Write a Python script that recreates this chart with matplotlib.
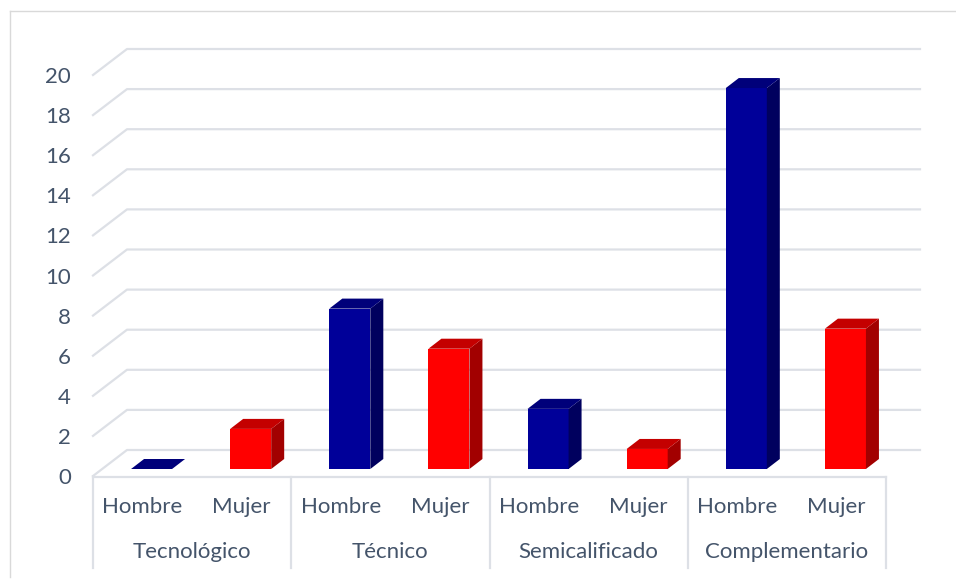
import numpy as np
import matplotlib.pyplot as plt
from matplotlib.patches import Polygon
from matplotlib.lines import Line2D

# data
groups = ['Tecnológico', 'Técnico', 'Semicalificado', 'Complementario']
sexes = ['Hombre', 'Mujer']
hombre = [0, 8, 3, 19]
mujer = [2, 6, 1, 7]
yticks = np.arange(0, 21, 2)

W, H = 956, 579
fig = plt.figure(figsize=(W / 100, H / 100), dpi=100)
plt.rcParams['font.family'] = ['Lato', 'DejaVu Sans']
txt = '#44546A'
grid = '#DDE0E6'
fs = 16

# front plane of the chart in pixels
x0, x1 = 93, 886
yb, yt = 476, 75
ax = fig.add_axes([x0 / W, 1 - yb / H, (x1 - x0) / W, (yb - yt) / H])
ax.set_xlim(0, 8)
ax.set_ylim(0, 20)
for s in ax.spines.values():
    s.set_visible(False)
ax.set_xticks([])
ax.set_yticks(yticks)
ax.tick_params(axis='y', length=0, pad=16, labelsize=fs, labelcolor=txt)

pxx = (x1 - x0) / 8.0
pxy = (yb - yt) / 20.0
# depth offsets (data units)
bdx, bdy = 34 / pxx, 26 / pxy      # back wall
fdx, fdy = 9 / pxx, 7 / pxy        # bar front
ddx, ddy = 13 / pxx, 10 / pxy      # bar depth
bw = 41 / pxx


def py2v(py):
    return (yb - py) / pxy


# gridlines on back wall + left diagonal
for v in yticks:
    ax.add_line(Line2D([0, bdx, 8 + bdx], [v, v + bdy, v + bdy], color=grid,
                       lw=1.6, clip_on=False, zorder=1))
# floor front edge
ax.add_line(Line2D([0, 8], [py2v(477)] * 2, color=grid, lw=1.6, clip_on=False, zorder=1))
# category box verticals
for xv in [0, 2, 4, 6, 8]:
    ax.add_line(Line2D([xv, xv], [py2v(477), py2v(568)], color=grid, lw=1.6,
                       clip_on=False, zorder=1))

colors = {
    'Hombre': ('#000099', '#00005E', '#00007A'),
    'Mujer': ('#FF0000', '#A20000', '#C40000'),
}


def bar3d(xc, h, cols):
    front, side, top = cols
    xl = xc - bw / 2 + fdx
    xr = xc + bw / 2 + fdx
    y0 = fdy
    y1 = fdy + h
    if h > 0:
        ax.bar(xc + fdx, h, bw, bottom=y0, color=front, zorder=3, clip_on=False)
        ax.add_patch(Polygon([[xr, y0], [xr + ddx, y0 + ddy], [xr + ddx, y1 + ddy], [xr, y1]],
                             closed=True, fc=side, ec='none', zorder=3, clip_on=False))
    ax.add_patch(Polygon([[xl, y1], [xl + ddx, y1 + ddy], [xr + ddx, y1 + ddy], [xr, y1]],
                         closed=True, fc=top, ec='none', zorder=3, clip_on=False))


for i, g in enumerate(groups):
    bar3d(2 * i + 0.5, hombre[i], colors['Hombre'])
    bar3d(2 * i + 1.5, mujer[i], colors['Mujer'])
    for j, s in enumerate(sexes):
        ax.text(2 * i + j + 0.5, py2v(507), s, ha='center', va='center',
                fontsize=fs, color=txt, clip_on=False)
    ax.text(2 * i + 1, py2v(552), g, ha='center', va='center', fontsize=fs,
            color=txt, clip_on=False)

# outer chart border
fig.add_artist(Line2D([10 / W, 10 / W], [1 - 577 / H, 1 - 11 / H], color='#D9D9D9', lw=1))
fig.add_artist(Line2D([10 / W, 1], [1 - 11 / H, 1 - 11 / H], color='#D9D9D9', lw=1))

fig.savefig('out.png', dpi=100, facecolor='white')
